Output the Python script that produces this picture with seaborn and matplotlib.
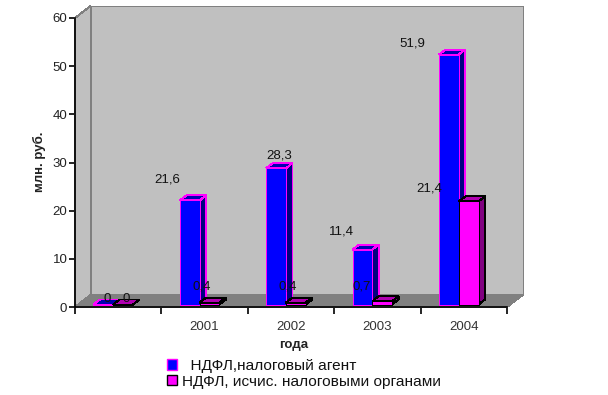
import matplotlib
matplotlib.use("Agg")
import matplotlib.pyplot as plt
from matplotlib.patches import Patch, Polygon
from matplotlib.transforms import Affine2D, IdentityTransform
import pandas as pd
import seaborn as sns

# Data
years = ["", "2001", "2002", "2003", "2004"]
agent = [0, 21.6, 28.3, 11.4, 51.9]
organs = [0, 0.4, 0.4, 0.7, 21.4]
agent_labels = ["0", "21,6", "28,3", "11,4", "51,9"]
organs_labels = ["0", "0,4", "0,4", "0,7", "21,4"]
agent_name = "  НДФЛ,налоговый агент"
organs_name = "НДФЛ, исчис. налоговыми органами"

df = pd.DataFrame({
    "year": years * 2,
    "value": agent + organs,
    "series": [agent_name] * 5 + [organs_name] * 5,
})

# Look of the fake 3D box, in pixels
wall_depth = (15.5, 12)
bar_depth = (6.5, 5)
bar_shift = Affine2D().translate(-5, 2.5)
agent_offsets = [(3.5, 5.5), (-22, 21), (3.5, 13), (-21, 18.5), (-36.5, 11)]
organs_offsets = [(3, 5.5), (-7.5, 15.6), (-8, 15.6), (-20.5, 15), (-39, 13)]

sns.set_style("white")
plt.rcParams["font.family"] = ["Liberation Sans", "DejaVu Sans"]

fig = plt.figure(figsize=(6.08, 3.95), dpi=100)
ax = fig.add_axes([75 / 608, 88 / 395, 432 / 608, 289 / 395])
ax.patch.set_visible(False)

sns.barplot(data=df, x="year", y="value", hue="series", width=0.457, saturation=1,
            palette=["#0000FF", "#FF00FF"], legend=False, ax=ax)

ax.set_xlim(-0.5, 4.5)
ax.set_ylim(0, 60)


def poly(points, face, edge, z, lw=0.72):
    ax.add_patch(Polygon(points, closed=True, facecolor=face, edgecolor=edge, linewidth=lw,
                         transform=IdentityTransform(), clip_on=False, zorder=z,
                         antialiased=False))


# Walls and floor
(x0, y0), (x1, y1) = ax.transData.transform([(-0.5, 0), (4.5, 60)])
dx, dy = wall_depth
poly([(x0 + dx, y0 + dy), (x1 + dx, y0 + dy), (x1 + dx, y1 + dy), (x0 + dx, y1 + dy)],
     "#C0C0C0", "#808080", 0.5)
poly([(x0, y0), (x0 + dx, y0 + dy), (x0 + dx, y1 + dy), (x0, y1)], "#C0C0C0", "#808080", 0.6)
poly([(x0, y0), (x1, y0), (x1 + dx, y0 + dy), (x0 + dx, y0 + dy)], "#808080", "#808080", 0.7)

# Bars with their top and side faces
styles = [("#FF00FF", "#0000B0", "#000080", 3.0, agent_labels, agent_offsets),
          ("#000000", "#B000B0", "#800080", 3.2, organs_labels, organs_offsets)]
for bars, (edge, top_col, side_col, z, labels, offsets) in zip(ax.containers, styles):
    for bar, label, (ox, oy) in zip(bars, labels, offsets):
        bar.set_edgecolor(edge)
        bar.set_linewidth(0.72)
        bar.set_antialiased(False)
        bar.set_zorder(z + 0.1)
        bar.set_clip_on(False)
        bar.set_transform(ax.transData + bar_shift)
        left, right = bar.get_x(), bar.get_x() + bar.get_width()
        top = bar.get_height()
        to_px = (ax.transData + bar_shift).transform
        (xa, ya), (xb, yb) = to_px([(left, 0), (right, top)])
        bx, by = bar_depth
        poly([(xa, yb), (xb, yb), (xb + bx, yb + by), (xa + bx, yb + by)], top_col, edge, z)
        poly([(xb, ya), (xb + bx, ya + by), (xb + bx, yb + by), (xb, yb)], side_col, edge, z)
        ax.annotate(label, xy=to_px((left + (right - left) / 2, top)), xycoords="figure pixels",
                    xytext=(ox, oy), textcoords="offset pixels", ha="center", va="center",
                    fontsize=9.5, color="#111111", zorder=6)

# Axes
sns.despine(ax=ax)
for side in ["left", "bottom"]:
    ax.spines[side].set_color("black")
    ax.spines[side].set_linewidth(1.2)
    ax.spines[side].set_zorder(2)
ax.set_yticks(range(0, 61, 10))
ax.tick_params(axis="y", which="major", left=True, length=4, width=1.2, color="black",
               labelsize=9.5, labelcolor="#222222", pad=1.5)
ax.set_xticks(range(5), years)
ax.set_xticks([i - 0.5 for i in range(6)], minor=True)
ax.tick_params(axis="x", which="major", bottom=False, length=0, labelsize=9.5,
               labelcolor="#333333", pad=10)
ax.tick_params(axis="x", which="minor", bottom=True, length=5, width=1.2, color="black")
ax.set_xlabel("")
ax.set_ylabel("")

fig.text(39 / 608, 1 - 162 / 395, "млн. руб.", rotation=90, ha="center", va="center",
         fontsize=9.5, fontweight="bold", color="#222222")
fig.text(294 / 608, 1 - 345 / 395, "года", ha="center", va="center",
         fontsize=9.5, fontweight="bold", color="#222222")

handles = [Patch(facecolor="#0000FF", edgecolor="#FF00FF", linewidth=1.0, label=agent_name),
           Patch(facecolor="#FF00FF", edgecolor="#000000", linewidth=1.0, label=organs_name)]
ax.legend(handles=handles, loc="upper left", bbox_to_anchor=(167 / 608, 1 - 359 / 395),
          bbox_transform=fig.transFigure, frameon=False, fontsize=11.1, handlelength=0.65,
          handleheight=0.65, handletextpad=0.32, labelspacing=0.1, borderpad=0, borderaxespad=0,
          labelcolor="#111111")

fig.savefig("out.png", dpi=100, facecolor="white")
